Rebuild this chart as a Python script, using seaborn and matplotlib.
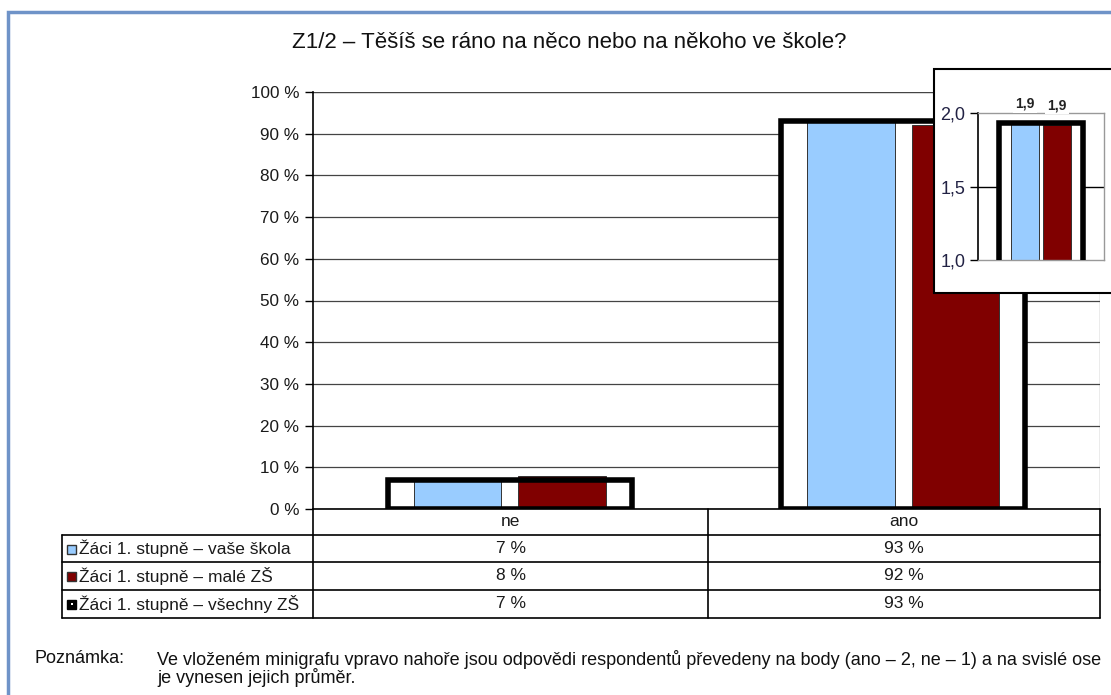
import pandas as pd
import matplotlib.pyplot as plt
import seaborn as sns
from matplotlib.lines import Line2D
from matplotlib.patches import Rectangle

# data
kategorie = ['ne', 'ano']
skupiny = ['Žáci 1. stupně – vaše škola', 'Žáci 1. stupně – malé ZŠ', 'Žáci 1. stupně – všechny ZŠ']
vase_skola = [7, 93]
male_zs = [8, 92]
vsechny_zs = [7, 93]
# minigraf (ano = 2, ne = 1)
prumer = [1.93, 1.92, 1.93]
titulek = 'Z1/2 – Těšíš se ráno na něco nebo na někoho ve škole?'
poznamka = ('Ve vloženém minigrafu vpravo nahoře jsou odpovědi respondentů převedeny na body '
            '(ano – 2, ne – 1) a na svislé ose\nje vynesen jejich průměr.')

modra = '#99CCFF'
cervena = '#800000'
txt = '#1a1a1a'

sns.set_theme(style='white')
plt.rcParams['font.family'] = ['Liberation Sans', 'DejaVu Sans']

W, H = 1111, 695
fig = plt.figure(figsize=(W / 100, H / 100), dpi=100)


def fx(px):
    return px / W


def fy(py):
    return 1 - py / H


# hlavní graf
ax = fig.add_axes([fx(313), fy(509), fx(1100) - fx(313), fy(92) - fy(509)])
df = pd.DataFrame({
    'kat': kategorie * 2,
    'val': vase_skola + male_zs,
    'skupina': [skupiny[0]] * 2 + [skupiny[1]] * 2,
})

sns.barplot(x=kategorie, y=vsechny_zs, color='white', width=0.62, linewidth=0,
            errorbar=None, saturation=1, ax=ax, zorder=1)
sns.barplot(data=df, x='kat', y='val', hue='skupina', palette=[modra, cervena], width=0.53,
            gap=0.16, edgecolor='#333333', linewidth=0.7, errorbar=None, legend=False,
            saturation=1, ax=ax, zorder=2)
sns.barplot(x=kategorie, y=vsechny_zs, color='black', fill=False, width=0.62,
            linewidth=4, errorbar=None, ax=ax, zorder=3)
for p in ax.patches[-2:]:
    p.set_facecolor('none')
    p.set_edgecolor('black')
    p.set_linewidth(4)

ax.set_xlim(-0.5, 1.5)
ax.set_ylim(0, 100)
ax.set_yticks(range(0, 101, 10))
ax.set_yticklabels([f'{v} %' for v in range(0, 101, 10)], fontsize=12.3, color=txt)
ax.tick_params(axis='y', length=6, width=1, color='black', direction='out', left=True, pad=4)
ax.set_xticks([])
ax.set_xlabel('')
ax.set_ylabel('')
ax.yaxis.grid(True, color='#444444', linewidth=0.9, zorder=0)
ax.set_axisbelow(True)
for s in ['top', 'right']:
    ax.spines[s].set_visible(False)
ax.spines['left'].set_color('black')
ax.spines['left'].set_linewidth(1.2)
ax.spines['bottom'].set_color('black')
ax.spines['bottom'].set_linewidth(1.2)
ax.axhline(100, color='#999999', linewidth=1, zorder=0)
ax.axvline(1.5, color='#999999', linewidth=1, zorder=0)

# tabulka pod grafem
radky = [509, 535, 562, 590, 618]
leva, stred, prava = 62, 708, 1100
lw = 1.2
for y in radky[1:]:
    fig.add_artist(Line2D([fx(leva), fx(prava)], [fy(y), fy(y)], color='black', lw=lw))
fig.add_artist(Line2D([fx(leva), fx(leva)], [fy(radky[1]), fy(radky[-1])], color='black', lw=lw))
for x in [313, stred, prava]:
    fig.add_artist(Line2D([fx(x), fx(x)], [fy(radky[0]), fy(radky[-1])], color='black', lw=lw))

stredy = [(313 + stred) / 2, (stred + prava) / 2]
for k, c in zip(kategorie, stredy):
    fig.text(fx(c), fy((radky[0] + radky[1]) / 2), k, ha='center', va='center', fontsize=12.5,
             color=txt)
hodnoty = [vase_skola, male_zs, vsechny_zs]
znacky = [(modra, '#333333'), (cervena, '#333333'), ('black', 'black')]
for r, (nazev, vals, (fc, ec)) in enumerate(zip(skupiny, hodnoty, znacky)):
    yc = (radky[r + 1] + radky[r + 2]) / 2
    fig.add_artist(Rectangle((fx(67), fy(yc + 5)), fx(9), fy(0) - fy(9), facecolor=fc,
                             edgecolor=ec, lw=1))
    if r == 2:
        fig.add_artist(Rectangle((fx(70.5), fy(yc + 1)), fx(2), fy(0) - fy(2),
                                 facecolor='white', edgecolor='none'))
    fig.text(fx(79), fy(yc), nazev, ha='left', va='center', fontsize=12.5, color=txt)
    for v, c in zip(vals, stredy):
        fig.text(fx(c), fy(yc), f'{v} %', ha='center', va='center', fontsize=12.5, color=txt)

# titulek
fig.text(fx(569), fy(42), titulek, ha='center', va='center', fontsize=16, color='#111111')

# poznámka
fig.text(fx(35), fy(650), 'Poznámka:', ha='left', va='top', fontsize=13, color='#111111')
fig.text(fx(157), fy(650), poznamka, ha='left', va='top', fontsize=13, color='#111111',
         linespacing=0.92)

# rámeček kolem celého obrázku
fig.add_artist(Rectangle((fx(8), fy(720)), fx(1130), fy(12) - fy(720), facecolor='none',
                         edgecolor='#6F93C8', lw=2.5, zorder=0.5))

# minigraf vpravo nahoře
fig.add_artist(Rectangle((fx(934), fy(293)), fx(200), fy(69) - fy(293), facecolor='white',
                         edgecolor='black', lw=1.5, zorder=1))
ins = fig.add_axes([fx(978), fy(260), fx(1104) - fx(978), fy(113) - fy(260)], zorder=2)
ins.patch.set_alpha(0)
df_m = pd.DataFrame({'kat': ['x', 'x'], 'val': prumer[:2], 'skupina': skupiny[:2]})
sns.barplot(x=['x'], y=[prumer[2]], color='white', width=0.66, linewidth=0, errorbar=None,
            saturation=1, ax=ins, zorder=1)
sns.barplot(data=df_m, x='kat', y='val', hue='skupina', palette=[modra, cervena], width=0.51,
            gap=0.12, edgecolor='#333333', linewidth=0.7, errorbar=None, legend=False,
            saturation=1, ax=ins, zorder=2)
sns.barplot(x=['x'], y=[prumer[2]], color='black', fill=False, width=0.66, linewidth=4,
            errorbar=None, ax=ins, zorder=3)
ins.patches[-1].set_facecolor('none')
ins.patches[-1].set_edgecolor('black')
ins.patches[-1].set_linewidth(4)
ins.set_ylim(1, 2)
ins.set_xlim(-0.5, 0.5)
ins.set_yticks([1, 1.5, 2])
ins.set_yticklabels(['1,0', '1,5', '2,0'], fontsize=13, color='#222244')
ins.tick_params(axis='y', length=6, width=1, color='black', left=True, pad=3)
ins.set_xticks([])
ins.set_xlabel('')
ins.set_ylabel('')
ins.axhline(1.5, color='black', lw=1, zorder=0)
for s in ['top', 'right', 'bottom']:
    ins.spines[s].set_color('#999999')
    ins.spines[s].set_linewidth(1)
ins.spines['left'].set_color('black')
ins.spines['left'].set_linewidth(1.2)
for cont in ins.containers[1:3]:
    ins.bar_label(cont, labels=[f'{v:.1f}'.replace('.', ',') for v in cont.datavalues],
                  padding=9, fontsize=10, fontweight='bold', color='#222222',
                  bbox=dict(facecolor='white', edgecolor='none', pad=1.5))

plt.savefig('out.png', dpi=100)
